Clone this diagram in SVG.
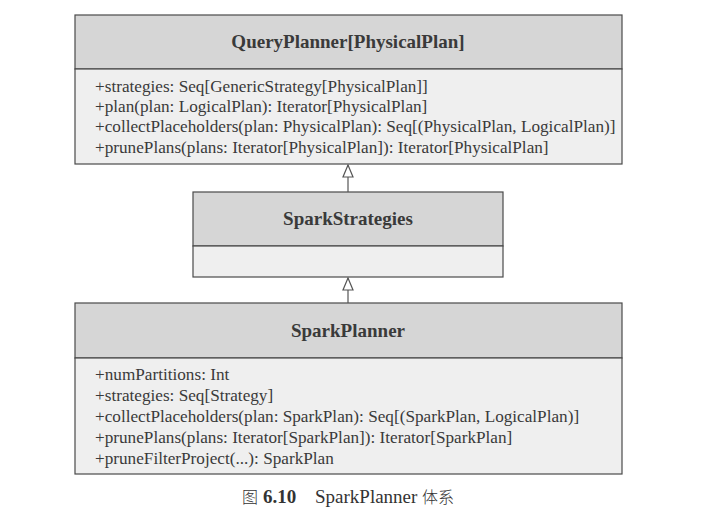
<svg xmlns="http://www.w3.org/2000/svg" width="707" height="512" viewBox="0 0 707 512">
<defs>
<style>
.hdr{fill:#d6d6d6;stroke:#4a4a4a;stroke-width:1.2}
.body{fill:#efefef;stroke:#4a4a4a;stroke-width:1.2}
.title{font-family:"Liberation Serif","Times New Roman",serif;font-size:19px;font-weight:bold;fill:#3a3a3a;text-anchor:middle}
.attr{font-family:"Liberation Serif","Times New Roman",serif;font-size:17.2px;fill:#3a3a3a}
.edge{stroke:#555;stroke-width:1.2;fill:none}
.cap{font-family:"Liberation Serif","Noto Sans CJK SC",serif;font-size:19px;fill:#333}
.cjk{font-family:"Noto Sans CJK SC",sans-serif;font-size:16px;fill:#333;font-weight:300}
</style>
<marker id="tri" markerWidth="14" markerHeight="12" refX="13" refY="6" orient="auto" markerUnits="userSpaceOnUse" viewBox="0 0 14 12">
<path d="M13,6 L1,1 L1,11 Z" fill="#fff" stroke="#555" stroke-width="1.2"/>
</marker>
</defs>
<rect width="707" height="512" fill="#fff"/>
<g id="queryplanner">
<rect class="hdr" x="75" y="15" width="547" height="54"/>
<rect class="body" x="75" y="69" width="547" height="95"/>
<text class="title" x="348" y="48">QueryPlanner[PhysicalPlan]</text>
<text class="attr" x="95" y="92">+strategies: Seq[GenericStrategy[PhysicalPlan]]</text>
<text class="attr" x="95" y="112">+plan(plan: LogicalPlan): Iterator[PhysicalPlan]</text>
<text class="attr" x="95" y="132">+collectPlaceholders(plan: PhysicalPlan): Seq[(PhysicalPlan, LogicalPlan)]</text>
<text class="attr" x="95" y="153">+prunePlans(plans: Iterator[PhysicalPlan]): Iterator[PhysicalPlan]</text>
</g>
<g id="sparkstrategies">
<rect class="hdr" x="193" y="192" width="310" height="54"/>
<rect class="body" x="193" y="246" width="310" height="31"/>
<text class="title" x="348" y="225">SparkStrategies</text>
</g>
<g id="sparkplanner">
<rect class="hdr" x="75" y="303" width="547" height="55"/>
<rect class="body" x="75" y="358" width="547" height="116"/>
<text class="title" x="348" y="337">SparkPlanner</text>
<text class="attr" x="95" y="380">+numPartitions: Int</text>
<text class="attr" x="95" y="401">+strategies: Seq[Strategy]</text>
<text class="attr" x="95" y="422">+collectPlaceholders(plan: SparkPlan): Seq[(SparkPlan, LogicalPlan)]</text>
<text class="attr" x="95" y="443">+prunePlans(plans: Iterator[SparkPlan]): Iterator[SparkPlan]</text>
<text class="attr" x="95" y="464">+pruneFilterProject(...): SparkPlan</text>
</g>
<g id="connectors">
<line class="edge" x1="348" y1="192" x2="348" y2="165" marker-end="url(#tri)"/>
<line class="edge" x1="348" y1="303" x2="348" y2="278" marker-end="url(#tri)"/>
</g>
<text class="cjk" x="242" y="503">图</text>
<text class="cap" x="263" y="503" font-weight="bold" font-size="18">6.10</text>
<text class="cap" x="315" y="503">SparkPlanner</text>
<text class="cjk" x="422" y="503" font-size="17">体系</text>
</svg>
